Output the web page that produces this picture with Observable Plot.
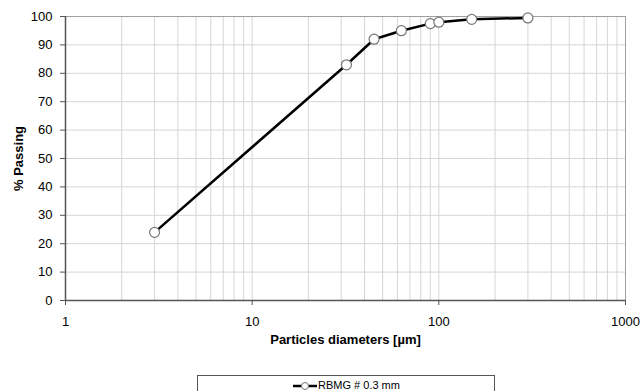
<!DOCTYPE html>
<html>
<head>
<meta charset="utf-8">
<script src="https://cdn.jsdelivr.net/npm/d3@7"></script>
<script src="https://cdn.jsdelivr.net/npm/@observablehq/plot@0.6"></script>
<style>
  html, body { margin: 0; padding: 0; background: #fff; overflow: hidden; }
  #wrap { position: relative; width: 643px; height: 391px; font-family: "Liberation Sans", Arial, sans-serif; }
  #legend { position: absolute; left: 197px; top: 375px; width: 298px; height: 30px; border: 1px solid #555; box-sizing: border-box; text-align: center; font-size: 11px; line-height: 12px; padding-top: 3px; color: #000; }
  #legend svg { vertical-align: middle; }
</style>
</head>
<body>
<div id="wrap">
  <div id="chart"></div>
  <div id="legend"><svg width="26" height="10"><line x1="1" y1="5" x2="25" y2="5" stroke="#000" stroke-width="2.5"></line><circle cx="13" cy="5" r="3.5" fill="#fff" stroke="#777" stroke-width="1"></circle></svg>RBMG # 0.3 mm</div>
</div>
<script>
const diameters = [3, 32, 45, 63, 90, 100, 150, 300];
const passing = [24, 83, 92, 95, 97.5, 98, 99, 99.5];
const xTicks = [1, 10, 100, 1000];
const yTicks = [0, 10, 20, 30, 40, 50, 60, 70, 80, 90, 100];
const xGrid = [2,3,4,5,6,7,8,9,10,20,30,40,50,60,70,80,90,100,200,300,400,500,600,700,800,900];

const data = diameters.map((d, i) => ({d, p: passing[i]}));

const chart = Plot.plot({
  width: 643,
  height: 372,
  marginLeft: 65,
  marginRight: 18,
  marginTop: 16,
  marginBottom: 72,
  x: {type: "log", domain: [1, 1000]},
  y: {domain: [0, 100]},
  style: {fontFamily: "'Liberation Sans', Arial, sans-serif", fontSize: "13px", color: "#000", background: "#fff"},
  marks: [
    Plot.ruleX(xGrid, {stroke: "#d6d6d6", strokeWidth: 1}),
    Plot.ruleY(yTicks, {stroke: "#d6d6d6", strokeWidth: 1}),
    Plot.ruleY([100], {stroke: "#a0a0a0", strokeWidth: 1}),
    Plot.ruleX([1000], {stroke: "#a0a0a0", strokeWidth: 1}),
    Plot.axisX(xTicks, {tickFormat: d => String(d), tickSize: 5, tickPadding: 11, label: null, stroke: "#555", fill: "#000", fontSize: 13}),
    Plot.axisY(yTicks, {tickSize: 5, tickPadding: 8, label: null, stroke: "#555", fill: "#000", fontSize: 13}),
    Plot.ruleX([1], {stroke: "#555", strokeWidth: 1.5}),
    Plot.ruleY([0], {stroke: "#555", strokeWidth: 1.5}),
    Plot.line(data, {x: "d", y: "p", stroke: "#000", strokeWidth: 2.5}),
    Plot.dot(data, {x: "d", y: "p", r: 5, fill: "#fff", stroke: "#777", strokeWidth: 1.2}),
    Plot.text(["% Passing"], {frameAnchor: "left", dx: -47, rotate: -90, textAnchor: "middle", fontWeight: "bold", fontSize: 13, fill: "#000"}),
    Plot.text(["Particles diameters [µm]"], {frameAnchor: "bottom", dy: 43, textAnchor: "middle", fontWeight: "bold", fontSize: 13, fill: "#000"})
  ]
});
document.getElementById("chart").appendChild(chart);
</script>
</body>
</html>
